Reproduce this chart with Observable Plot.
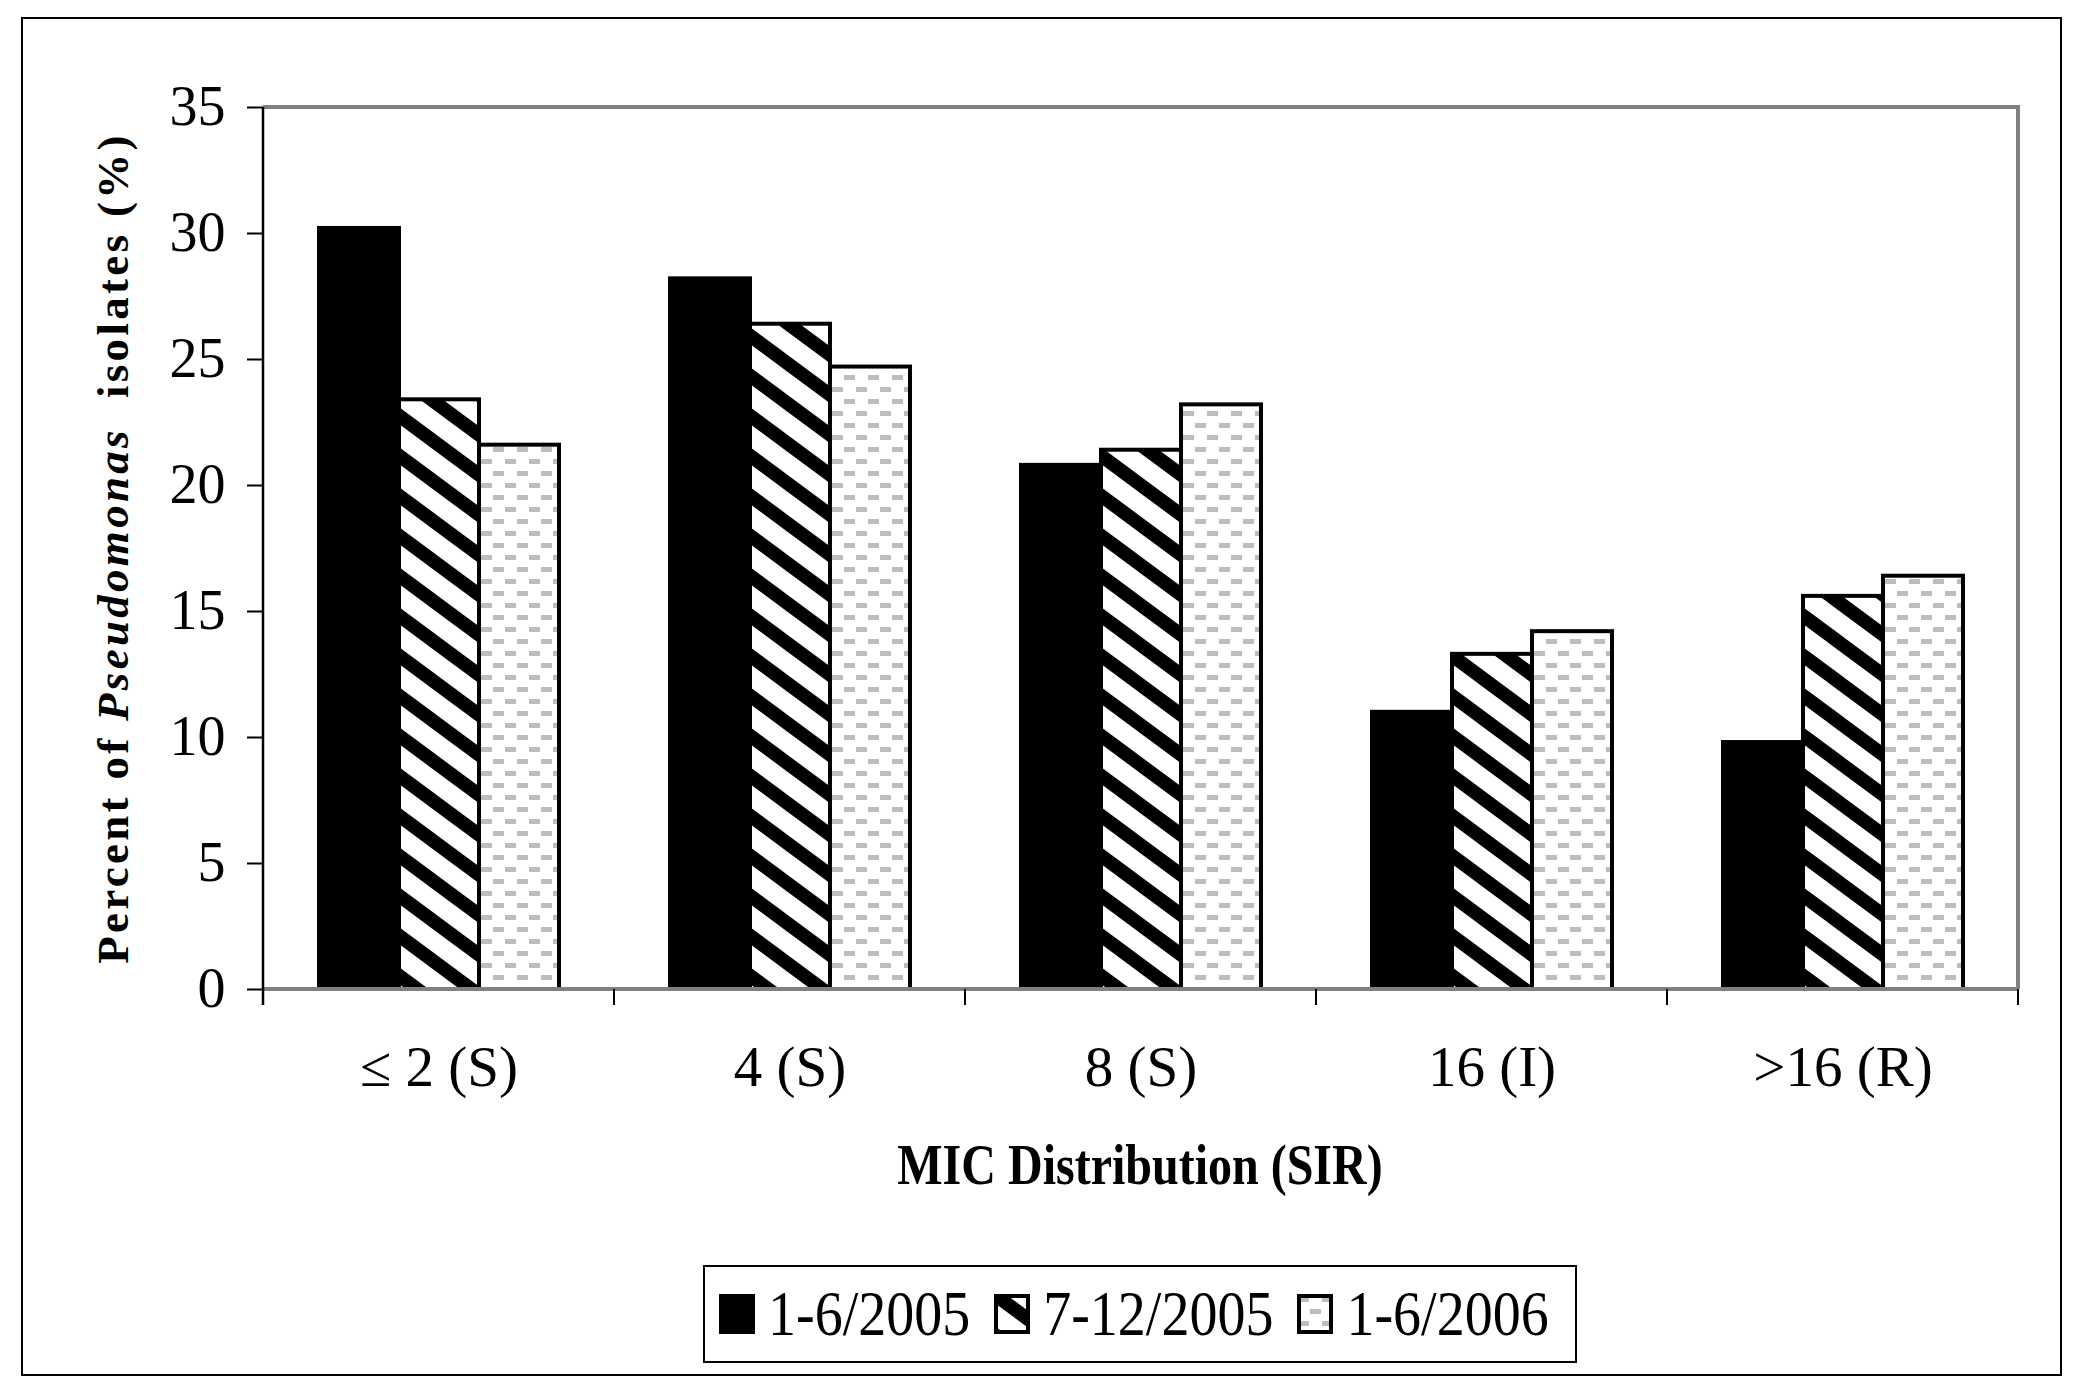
<!DOCTYPE html>
<html>
<head>
<meta charset="utf-8">
<script src="https://cdn.jsdelivr.net/npm/d3@7"></script>
<script src="https://cdn.jsdelivr.net/npm/@observablehq/plot@0.6"></script>
<style>
  html, body { margin: 0; padding: 0; background: #fff; }
  #page { position: relative; width: 2084px; height: 1390px; background: #fff; overflow: hidden;
          font-family: "Liberation Serif", "Times New Roman", serif; color: #000; }
  #outer { position: absolute; left: 21px; top: 17px; width: 2041px; height: 1359px;
           border: 2px solid #000; box-sizing: border-box; }
  #chart { position: absolute; left: 0; top: 0; }
  #ytitle { position: absolute; left: 113px; top: 548px; white-space: nowrap;
            font-weight: bold; font-size: 45px; letter-spacing: 3.3px;
            transform: translate(-50%, -50%) rotate(-90deg); }
  #xtitle { position: absolute; left: 1140px; top: 1141px; white-space: nowrap; line-height: 1;
            font-weight: bold; font-size: 48px; transform: translateX(-50%) scaleY(1.18); }
  #legend { position: absolute; left: 703px; top: 1265px; width: 874px; height: 98px;
            border: 2px solid #000; box-sizing: border-box; display: flex; align-items: center;
            padding-left: 14px; white-space: nowrap; }
  .item { display: flex; align-items: center; margin-right: 24px; flex-shrink: 0; white-space: nowrap; }
  .item svg { display: block; margin-right: 13px; flex-shrink: 0; }
  .item span { font-size: 56px; line-height: 1; display: inline-block; white-space: nowrap; transform: scaleY(1.12); }
</style>
</head>
<body>
<svg width="0" height="0" style="position:absolute">
  <defs>
    <pattern id="hatch" patternUnits="userSpaceOnUse" width="54" height="40">
      <rect width="54" height="40" fill="#fff"/>
      <path d="M-14,-50.4 L68,10.4 M-14,-10.4 L68,50.4 M-14,29.6 L68,90.4" stroke="#000" stroke-width="13.5"/>
    </pattern>
    <pattern id="dash" patternUnits="userSpaceOnUse" width="24" height="24">
      <rect width="24" height="24" fill="#fff"/>
      <rect x="1" y="3" width="11" height="5" fill="#bdbdbd"/>
      <rect x="13" y="15" width="11" height="5" fill="#bdbdbd"/>
    </pattern>
  </defs>
</svg>
<div id="page">
  <div id="outer"></div>
  <div id="chart"></div>
  <div id="ytitle">Percent of <i>Pseudomonas</i> &nbsp;isolates (%)</div>
  <div id="xtitle">MIC Distribution (SIR)</div>
  <div id="legend"></div>
</div>
<script>
// ---- data ----
const categories = ["≤ 2 (S)", "4 (S)", "8 (S)", "16 (I)", ">16 (R)"];
const seriesNames = ["1-6/2005", "7-12/2005", "1-6/2006"];
const seriesJan2005 = [30.2, 28.2, 20.8, 11.0, 9.8];
const seriesJul2005 = [23.4, 26.4, 21.4, 13.3, 15.6];
const seriesJan2006 = [21.6, 24.7, 23.2, 14.2, 16.4];
const yTicks = [0, 5, 10, 15, 20, 25, 30, 35];
const seriesFills = ["#000000", "url(#hatch)", "url(#dash)"];

const seriesValues = [seriesJan2005, seriesJul2005, seriesJan2006];
const data = categories.flatMap((c, i) =>
  seriesNames.map((s, j) => ({category: c, series: s, value: seriesValues[j][i]})));

const chart = Plot.plot({
  width: 2084,
  height: 1110,
  marginLeft: 263,
  marginRight: 66,
  marginTop: 107,
  marginBottom: 121,
  style: {fontFamily: "'Liberation Serif', 'Times New Roman', serif", fontSize: "56px", color: "#000", background: "transparent", overflow: "visible"},
  fx: {domain: categories, padding: 0, label: null},
  x: {domain: seriesNames, paddingInner: 0, paddingOuter: 0.69, axis: null},
  y: {domain: [0, 35], label: null},
  color: {domain: seriesNames, range: seriesFills},
  marks: [
    Plot.barY(data, {fx: "category", x: "series", y: "value", fill: "series", stroke: "#000", strokeWidth: 4}),
    Plot.axisY({ticks: yTicks, tickSize: 16, tickPadding: 22, strokeWidth: 2, label: null, fontSize: 56}),
    Plot.axisFx({anchor: "bottom", tickSize: 0, tickPadding: 56, label: null, fontSize: 57})
  ]
});
document.getElementById("chart").appendChild(chart);

// frame, axis line and group boundary ticks from the Plot scales
const fx = chart.scale("fx");
const y = chart.scale("y");
const bw = fx.bandwidth;
const x0 = fx.apply(categories[0]);
const x1 = fx.apply(categories[categories.length - 1]) + bw;
const yTop = y.apply(35), yZero = y.apply(0);
const g = d3.select(chart).append("g");
g.append("path").attr("d", `M${x0},${yTop}H${x1}V${yZero}`).attr("fill", "none")
  .attr("stroke", "#808080").attr("stroke-width", 4);
g.append("line").attr("x1", x0).attr("x2", x1).attr("y1", yZero).attr("y2", yZero)
  .attr("stroke", "#808080").attr("stroke-width", 4);
g.append("line").attr("x1", x0).attr("x2", x0).attr("y1", yTop).attr("y2", yZero + 16)
  .attr("stroke", "#000").attr("stroke-width", 2.5);
const bounds = categories.map(c => fx.apply(c)).concat([x1]);
g.selectAll("line.b").data(bounds).join("line").attr("class", "b")
  .attr("x1", d => d).attr("x2", d => d).attr("y1", yZero).attr("y2", yZero + 16)
  .attr("stroke", "#000").attr("stroke-width", 2);

// legend
const legend = d3.select("#legend");
seriesNames.forEach((s, j) => {
  const item = legend.append("div").attr("class", "item");
  const sw = item.append("svg").attr("width", 36).attr("height", 40);
  sw.append("rect").attr("x", 2).attr("y", 2).attr("width", 32).attr("height", 36)
    .attr("fill", seriesFills[j]).attr("stroke", "#000").attr("stroke-width", 4);
  item.append("span").text(s);
});
</script>
</body>
</html>
